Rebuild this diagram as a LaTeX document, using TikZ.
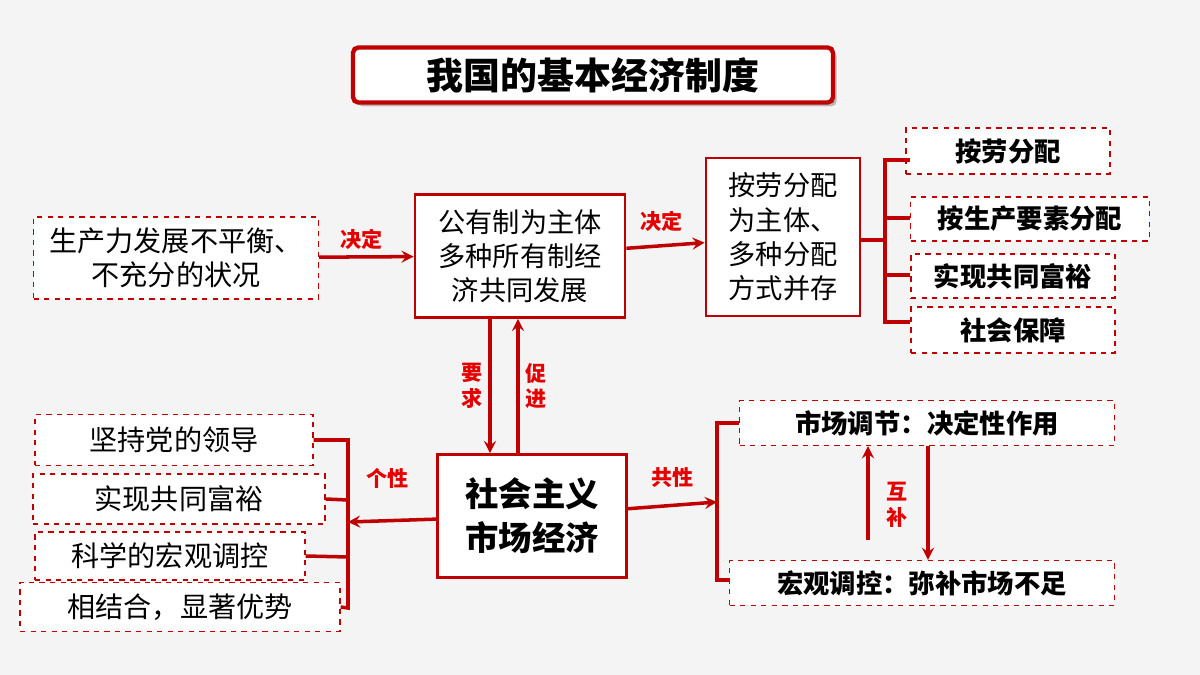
\documentclass[tikz,border=0pt]{standalone}
\usepackage{fontspec}
\newfontfamily\cjk{Noto Sans CJK SC}
\usetikzlibrary{positioning,arrows,shadows}
\definecolor{dred}{HTML}{C00000}
\definecolor{bg}{HTML}{F4F4F4}

\begin{document}
\begin{tikzpicture}[x=0.02cm,y=-0.02cm,
% Box styles
dbox/.style={draw=dred,dashed,thick,fill=white,align=center,inner sep=1pt,
	font=\cjk\fontsize{16}{19.5}\selectfont},
bbox/.style={dbox,font=\cjk\bfseries\fontsize{15}{18}\selectfont},
sbox/.style={draw=dred,line width=1.6pt,fill=white,align=center,inner sep=2pt,
	font=\cjk\fontsize{15.5}{19.5}\selectfont},
% Connector and label styles
arr/.style={->,>=stealth,line width=2pt,draw=dred},
line/.style={line width=2pt,draw=dred},
lab/.style={text=red!90!black,font=\cjk\bfseries\fontsize{12}{14.5}\selectfont},
]
\useasboundingbox[fill=bg] (0,0) rectangle (1200,675);
%% Title
\node (title) [draw=dred,line width=2.5pt,rounded corners=3pt,fill=white,
	drop shadow,minimum width=9.6cm,minimum height=1.1cm,
	font=\cjk\bfseries\fontsize{21}{23}\selectfont] at (593,75) {我国的基本经济制度};
%% Upper row
\node (cause) [dbox,minimum width=5.7cm,minimum height=1.64cm] at (176,258)
	{生产力发展不平衡、\\不充分的状况};
\node (own) [sbox,minimum width=4.2cm,minimum height=2.46cm] at (520,256)
	{公有制为主体\\多种所有制经\\济共同发展};
\node (dist) [sbox,minimum width=3.08cm,minimum height=3.16cm] at (783,237)
	{按劳分配\\为主体、\\多种分配\\方式并存};
\node (d1) [bbox,minimum width=4.08cm,minimum height=0.92cm] at (1008,151) {按劳分配};
\node (d2) [bbox,minimum width=4.78cm,minimum height=0.88cm] at (1030,219) {按生产要素分配};
\node (d3) [bbox,minimum width=4.08cm,minimum height=0.88cm] at (1013,276) {实现共同富裕};
\node (d4) [bbox,minimum width=4.08cm,minimum height=0.92cm] at (1013,330) {社会保障};
\draw[arr] (cause) -- node[lab,above,pos=0.45] {决定} (own);
\draw[arr] (own) -- node[lab,above,pos=0.45,yshift=4pt] {决定} (dist);
\coordinate (bu) at (885,240);
\draw[line] (dist.east|-bu) -- (bu);
\draw[line] (910,160) -| (885,322) -- (910,322);
\draw[line] (885,218) -- (910,218) (885,275) -- (910,275);
%% Market economy
\node (mkt) [sbox,minimum width=3.78cm,minimum height=2.46cm,
	font=\cjk\bfseries\fontsize{19}{25}\selectfont] at (532,516) {社会主义\\市场经济};
\draw[arr] (own.south-|490,0) -- node[lab,left,align=center] {要\\求} (mkt.north-|490,0);
\draw[arr] (mkt.north-|518,0) -- node[lab,right,align=center] {促\\进} (own.south-|518,0);
%% Left group
\node (l1) [dbox,minimum width=5.56cm,minimum height=1.02cm] at (174,440) {坚持党的领导};
\node (l2) [dbox,minimum width=5.84cm,minimum height=1.0cm] at (179,499) {实现共同富裕};
\node (l3) [dbox,minimum width=5.4cm,minimum height=0.96cm] at (170,556) {科学的宏观调控};
\node (l4) [dbox,minimum width=6.4cm,minimum height=0.98cm] at (180,607) {相结合，显著优势};
\coordinate (lb) at (348,522);
\draw[arr] (mkt) -- node[lab,above,pos=0.55,yshift=14pt] {个性} (lb);
\draw[line] (l1.east) -| (348,608) -- (l4.east);
\draw[line] (348,500) -- (l2.east) (348,557) -- (l3.east);
%% Right group
\node (r1) [bbox,minimum width=7.5cm,minimum height=0.9cm] at (927,423) {市场调节：决定性作用};
\node (r2) [bbox,minimum width=7.7cm,minimum height=0.9cm] at (922,583) {宏观调控：弥补市场不足};
\coordinate (rb) at (717,502);
\draw[arr] (mkt) -- node[lab,above,pos=0.5,yshift=6pt] {共性} (rb);
\draw[line] (r1.west) -| (717,580) -- (r2.west|-0,580);
\coordinate (ru) at (868,540);
\draw[arr] (ru) -- (r1.south-|ru);
\draw[arr] (r1.south-|928,0) -- (r2.north-|928,0);
\node[lab,align=center] at (897,505) {互\\补};
\end{tikzpicture}
\end{document}
